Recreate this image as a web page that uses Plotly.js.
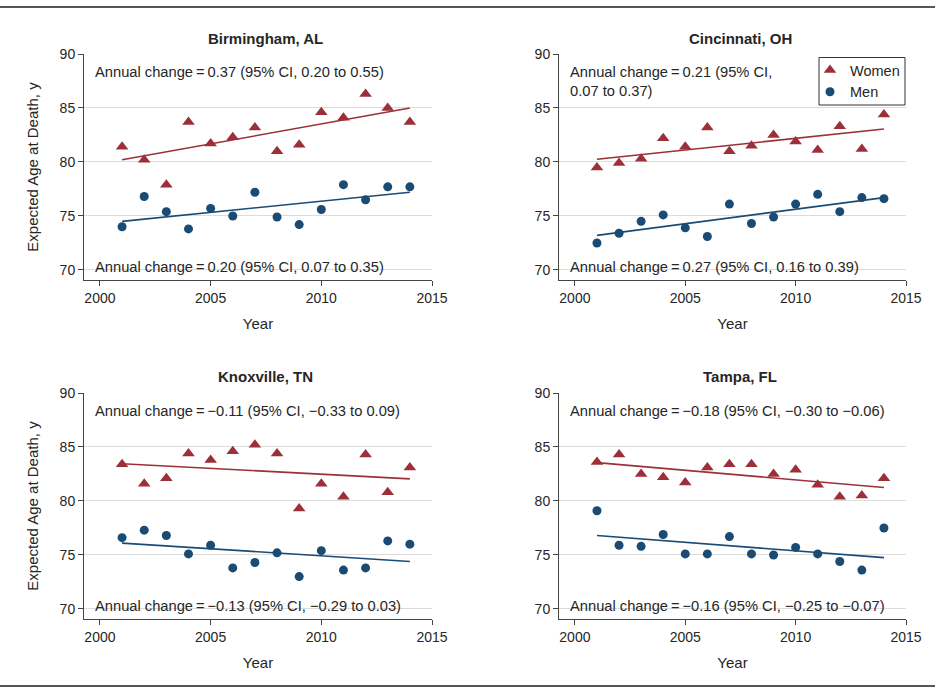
<!DOCTYPE html>
<html>
<head>
<meta charset="utf-8">
<script src="https://cdn.plot.ly/plotly-3.0.1.min.js"></script>
<style>html,body{margin:0;padding:0;background:#fff}#chart{width:935px;height:691px}</style>
</head>
<body>
<div id="chart"></div>
<script>
const years = [2001,2002,2003,2004,2005,2006,2007,2008,2009,2010,2011,2012,2013,2014];
const cities = ["Birmingham, AL","Cincinnati, OH","Knoxville, TN","Tampa, FL"];

const birminghamWomen = [81.4,80.2,77.9,83.7,81.7,82.3,83.2,81.0,81.6,84.6,84.1,86.3,85.0,83.7];
const birminghamMen   = [74.0,76.8,75.4,73.8,75.7,75.0,77.2,74.9,74.2,75.6,77.9,76.5,77.7,77.7];
const cincinnatiWomen = [79.5,79.9,80.3,82.2,81.4,83.2,81.0,81.5,82.5,81.9,81.1,83.3,81.2,84.4];
const cincinnatiMen   = [72.5,73.4,74.5,75.1,73.9,73.1,76.1,74.3,74.9,76.1,77.0,75.4,76.7,76.6];
const knoxvilleWomen  = [83.4,81.6,82.1,84.4,83.8,84.6,85.2,84.4,79.3,81.6,80.4,84.3,80.8,83.1];
const knoxvilleMen    = [76.6,77.3,76.8,75.1,75.9,73.8,74.3,75.2,73.0,75.4,73.6,73.8,76.3,76.0];
const tampaWomen      = [83.6,84.3,82.5,82.2,81.7,83.1,83.4,83.4,82.5,82.9,81.5,80.4,80.5,82.1];
const tampaMen        = [79.1,75.9,75.8,76.9,75.1,75.1,76.7,75.1,75.0,75.7,75.1,74.4,73.6,77.5];

// fitted trend lines: [value at 2001, value at 2014]
const trendYears = [2001, 2014];
const birminghamWomenTrend = [80.2, 85.0];
const birminghamMenTrend   = [74.5, 77.2];
const cincinnatiWomenTrend = [80.25, 83.05];
const cincinnatiMenTrend   = [73.2, 76.7];
const knoxvilleWomenTrend  = [83.45, 82.05];
const knoxvilleMenTrend    = [76.1, 74.4];
const tampaWomenTrend      = [83.55, 81.25];
const tampaMenTrend        = [76.8, 74.75];

const womenLabels = [
  "Annual change\u2009=\u20090.37 (95% CI, 0.20 to 0.55)",
  "Annual change\u2009=\u20090.21 (95% CI,<br>0.07 to 0.37)",
  "Annual change\u2009=\u2009\u22120.11 (95% CI, \u22120.33 to 0.09)",
  "Annual change\u2009=\u2009\u22120.18 (95% CI, \u22120.30 to \u22120.06)"
];
const menLabels = [
  "Annual change\u2009=\u20090.20 (95% CI, 0.07 to 0.35)",
  "Annual change\u2009=\u20090.27 (95% CI, 0.16 to 0.39)",
  "Annual change\u2009=\u2009\u22120.13 (95% CI, \u22120.29 to 0.03)",
  "Annual change\u2009=\u2009\u22120.16 (95% CI, \u22120.25 to \u22120.07)"
];
const xTicks = [2000, 2005, 2010, 2015];
const yTicks = [70, 75, 80, 85, 90];

const womenSeries = [birminghamWomen, cincinnatiWomen, knoxvilleWomen, tampaWomen];
const menSeries = [birminghamMen, cincinnatiMen, knoxvilleMen, tampaMen];
const womenTrends = [birminghamWomenTrend, cincinnatiWomenTrend, knoxvilleWomenTrend, tampaWomenTrend];
const menTrends = [birminghamMenTrend, cincinnatiMenTrend, knoxvilleMenTrend, tampaMenTrend];

const RED = "#9c3038";
const BLUE = "#1a4b74";
const FONT = "Liberation Sans, Arial, sans-serif";
const TXT = "#262626";

const W = 935, H = 691;
// pixel panel boxes [left, right, top, bottom]
const boxes = [
  [84, 432, 54, 280],
  [559, 906, 54, 280],
  [84, 432, 393, 619],
  [559, 906, 393, 619]
];

const traces = [];
const layout = {
  width: W, height: H,
  margin: {l: 0, r: 0, t: 0, b: 0},
  paper_bgcolor: "#fff", plot_bgcolor: "#fff",
  font: {family: FONT, size: 14, color: TXT},
  showlegend: true,
  legend: {
    x: 810 / W, y: 1 - 54 / H, xanchor: "left", yanchor: "top",
    borderwidth: 0, bgcolor: "rgba(0,0,0,0)",
    font: {family: FONT, size: 14.5, color: TXT},
    tracegroupgap: 0, itemwidth: 30
  },
  annotations: [],
  shapes: [
    {type: "line", xref: "paper", yref: "paper", x0: 0, x1: 1, y0: 1 - 7 / H, y1: 1 - 7 / H, line: {color: "#555", width: 2}},
    {type: "line", xref: "paper", yref: "paper", x0: 0, x1: 1, y0: 1 - 686 / H, y1: 1 - 686 / H, line: {color: "#555", width: 2}},
    {type: "rect", xref: "paper", yref: "paper", x0: 819 / W, x1: 905 / W, y0: 1 - 105 / H, y1: 1 - 57.5 / H,
     line: {color: "#333", width: 1}, fillcolor: "rgba(255,255,255,0)", layer: "above"}
  ]
};

for (let i = 0; i < 4; i++) {
  const n = i === 0 ? "" : String(i + 1);
  const xa = "x" + n, ya = "y" + n;
  const [l, r, t, b] = boxes[i];
  layout["xaxis" + n] = {
    domain: [l / W, r / W], anchor: ya,
    range: [1999.28, 2015], tickvals: xTicks, ticks: "outside", ticklen: 5, tickcolor: "#444",
    showgrid: false, zeroline: false, showline: true, linecolor: "#444", linewidth: 1,
    tickfont: {family: FONT, size: 14, color: TXT},
    title: {text: "Year", font: {family: FONT, size: 15, color: TXT}, standoff: 13}
  };
  layout["yaxis" + n] = {
    domain: [1 - b / H, 1 - t / H], anchor: xa,
    range: [69.07, 90], tickvals: yTicks, ticks: "outside", ticklen: 5, tickcolor: "#444",
    showgrid: true, gridcolor: "#dcdcdc", gridwidth: 1, zeroline: false,
    showline: true, linecolor: "#444", linewidth: 1,
    tickfont: {family: FONT, size: 14, color: TXT},
    title: (i % 2 === 0) ? {text: "Expected Age at Death, y", font: {family: FONT, size: 15, color: TXT}, standoff: 17} : {text: ""}
  };
  traces.push({
    x: years, y: womenSeries[i], xaxis: xa, yaxis: ya, type: "scatter", mode: "markers",
    name: "Women", legendgroup: "w", showlegend: i === 0,
    marker: {symbol: "triangle-up", size: 11, color: RED}
  });
  traces.push({
    x: years, y: menSeries[i], xaxis: xa, yaxis: ya, type: "scatter", mode: "markers",
    name: "Men", legendgroup: "m", showlegend: i === 0,
    marker: {symbol: "circle", size: 9, color: BLUE}
  });
  traces.push({
    x: trendYears, y: womenTrends[i], xaxis: xa, yaxis: ya, type: "scatter", mode: "lines",
    showlegend: false, hoverinfo: "skip", line: {color: RED, width: 1.6}
  });
  traces.push({
    x: trendYears, y: menTrends[i], xaxis: xa, yaxis: ya, type: "scatter", mode: "lines",
    showlegend: false, hoverinfo: "skip", line: {color: BLUE, width: 1.6}
  });
  // panel title
  layout.annotations.push({
    xref: "paper", yref: "paper", x: ((l + r) / 2 + 7.5) / W, y: 1 - (t - 16) / H,
    xanchor: "center", yanchor: "middle", showarrow: false,
    text: "<b>" + cities[i] + "</b>", font: {family: FONT, size: 15, color: TXT}
  });
  layout.annotations.push({
    xref: "paper", yref: "paper", x: (l + 9) / W, y: 1 - (t + 8) / H,
    xanchor: "left", yanchor: "top", align: "left", showarrow: false,
    text: womenLabels[i], font: {family: FONT, size: 14.7, color: TXT}
  });
  layout.annotations.push({
    xref: "paper", yref: "paper", x: (l + 9) / W, y: 1 - (t + 213) / H,
    xanchor: "left", yanchor: "middle", align: "left", showarrow: false,
    text: menLabels[i], font: {family: FONT, size: 14.7, color: TXT}
  });
}

Plotly.newPlot("chart", traces, layout, {displayModeBar: false, staticPlot: true});
</script>
</body>
</html>
